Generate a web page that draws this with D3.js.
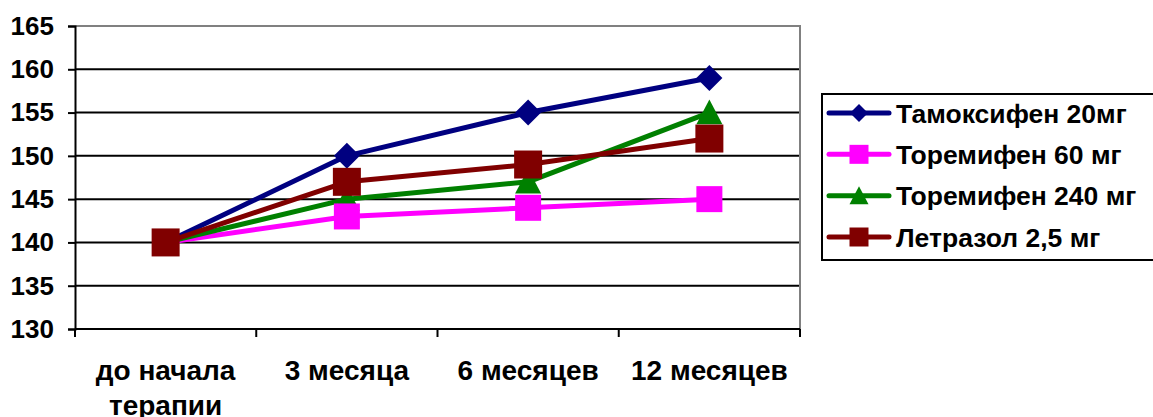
<!DOCTYPE html>
<html>
<head>
<meta charset="utf-8">
<script src="https://cdn.jsdelivr.net/npm/d3@7"></script>
<style>
  html, body { margin: 0; padding: 0; background: #fff; }
  svg { display: block; }
  text { font-family: "Liberation Sans", Arial, sans-serif; font-weight: bold; fill: #000; }
</style>
</head>
<body>
<svg id="chart" width="1153" height="417"></svg>
<script>
// Categories (time points) and series values
const categories = ["до начала терапии", "3 месяца", "6 месяцев", "12 месяцев"];
const tamoxifen20 = [140, 150, 155, 159];
const toremifen60 = [140, 143, 144, 145];
const toremifen240 = [140, 145, 147, 155];
const letrozole25 = [140, 147, 149, 152];
const yTicks = [130, 135, 140, 145, 150, 155, 160, 165];

const series = [
  { name: "Тамоксифен 20мг", values: tamoxifen20, color: "#000080", marker: "diamond" },
  { name: "Торемифен 60 мг", values: toremifen60, color: "#FF00FF", marker: "square" },
  { name: "Торемифен 240 мг", values: toremifen240, color: "#008000", marker: "triangle" },
  { name: "Летразол 2,5 мг", values: letrozole25, color: "#800000", marker: "square" }
];
// marker drawing order (last drawn on top)
const markerOrder = [0, 2, 1, 3];

const svg = d3.select("#chart");
const plot = { left: 75, right: 800, top: 26, bottom: 329 };

const x = d3.scaleBand().domain(categories).range([plot.left, plot.right]);
const y = d3.scaleLinear().domain([130, 165]).range([plot.bottom, plot.top]);

// horizontal gridlines
svg.append("g").selectAll("line")
  .data(yTicks.filter(v => v > 130 && v < 165))
  .join("line")
  .attr("x1", plot.left).attr("x2", plot.right)
  .attr("y1", d => y(d)).attr("y2", d => y(d))
  .attr("stroke", "#000").attr("stroke-width", 2);

// plot area border (top and right, gray)
svg.append("path")
  .attr("d", `M${plot.left},${y(165)}H${plot.right}V${plot.bottom}`)
  .attr("fill", "none").attr("stroke", "#808080").attr("stroke-width", 2);

// y axis
const yAxis = svg.append("g")
  .attr("transform", `translate(${plot.left},0)`)
  .call(d3.axisLeft(y).tickValues(yTicks).tickSize(7).tickPadding(14).tickFormat(d3.format("d")));
yAxis.select(".domain").attr("stroke", "#000").attr("stroke-width", 2);
yAxis.selectAll(".tick line").attr("stroke", "#000").attr("stroke-width", 2);
yAxis.selectAll(".tick text").style("font-size", "26px").style("font-family", "Liberation Sans, Arial, sans-serif").style("font-weight", "bold").attr("fill", "#000");

// x axis with ticks at category boundaries
const xAxisG = svg.append("g").attr("transform", `translate(0,${plot.bottom})`);
xAxisG.append("line")
  .attr("x1", plot.left).attr("x2", plot.right)
  .attr("stroke", "#000").attr("stroke-width", 2);
const boundaries = categories.map(c => x(c)).concat([x(categories[categories.length - 1]) + x.bandwidth()]);
xAxisG.selectAll("line.tk").data(boundaries).join("line").attr("class", "tk")
  .attr("x1", d => d).attr("x2", d => d).attr("y1", 0).attr("y2", 8)
  .attr("stroke", "#000").attr("stroke-width", 2);

// x labels (wrapped into lines)
const xLabelLines = { "до начала терапии": ["до начала", "терапии"] };
xAxisG.selectAll("text.cat").data(categories).join("text").attr("class", "cat")
  .attr("x", d => x(d) + x.bandwidth() / 2)
  .attr("y", 51)
  .attr("text-anchor", "middle")
  .style("font-size", "28px")
  .each(function (d) {
    const lines = xLabelLines[d] || [d];
    d3.select(this).selectAll("tspan").data(lines).join("tspan")
      .attr("x", x(d) + x.bandwidth() / 2)
      .attr("dy", (l, i) => i === 0 ? 0 : 35)
      .text(l => l);
  });

// series lines
const line = d3.line().x((v, i) => x(categories[i]) + x.bandwidth() / 2).y(v => y(v));
svg.append("g").selectAll("path")
  .data(series).join("path")
  .attr("d", s => line(s.values))
  .attr("fill", "none")
  .attr("stroke", s => s.color)
  .attr("stroke-width", 5)
  .attr("stroke-linejoin", "round");

function markerPath(type, size) {
  const h = size / 2;
  if (type === "diamond") return `M0,${-h}L${h},0L0,${h}L${-h},0Z`;
  if (type === "triangle") return `M0,${-h}L${h},${h * 0.9}L${-h},${h * 0.9}Z`;
  return `M${-h},${-h}H${h}V${h}H${-h}Z`;
}

const markersG = svg.append("g");
markerOrder.forEach(si => {
  const s = series[si];
  markersG.append("g").selectAll("path")
    .data(s.values).join("path")
    .attr("transform", (v, i) => `translate(${x(categories[i]) + x.bandwidth() / 2},${y(v)})`)
    .attr("d", markerPath(s.marker, s.color === "#800000" ? 28 : 26))
    .attr("fill", s.color);
});

// legend
const legend = svg.append("g");
legend.append("rect")
  .attr("x", 822).attr("y", 94).attr("width", 340).attr("height", 166)
  .attr("fill", "#fff").attr("stroke", "#000").attr("stroke-width", 2);
const rowY = d3.scalePoint().domain(series.map(s => s.name)).range([113, 237]);
const legendMarkerSize = { diamond: 18, triangle: 19, square: 19 };
const rows = legend.selectAll("g.row").data(series).join("g").attr("class", "row")
  .attr("transform", s => `translate(0,${rowY(s.name)})`);
rows.append("line")
  .attr("x1", 829).attr("x2", 889)
  .attr("stroke", s => s.color).attr("stroke-width", 5).attr("stroke-linecap", "round");
rows.append("path")
  .attr("transform", "translate(859,0)")
  .attr("d", s => markerPath(s.marker, legendMarkerSize[s.marker]))
  .attr("fill", s => s.color);
rows.append("text")
  .attr("x", 896).attr("y", 0).attr("dy", "0.36em")
  .style("font-size", "26.5px")
  .text(s => s.name);
</script>
</body>
</html>
